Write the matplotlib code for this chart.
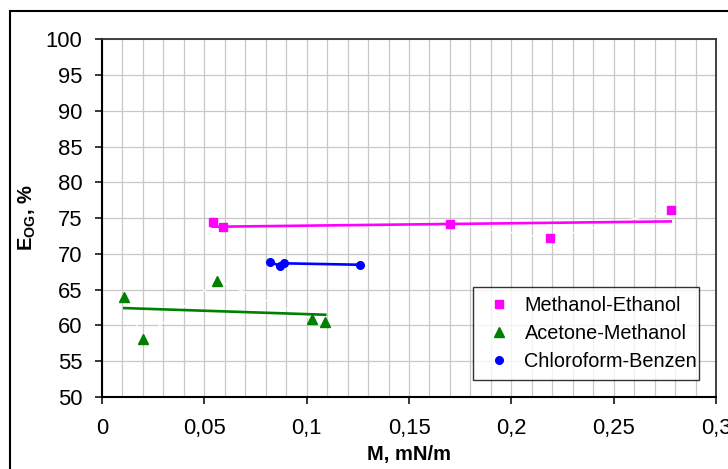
import matplotlib
matplotlib.use('Agg')
import matplotlib.pyplot as plt
from matplotlib.patches import Rectangle
from matplotlib.ticker import MultipleLocator, FuncFormatter
import numpy as np

plt.rcParams['font.family'] = ['Liberation Sans', 'DejaVu Sans']
plt.rcParams['mathtext.fontset'] = 'custom'
plt.rcParams['mathtext.rm'] = 'Liberation Sans'
plt.rcParams['mathtext.bf'] = 'Liberation Sans:bold'

# data
me_x = [0.0541, 0.0590, 0.1700, 0.2187, 0.2779]
me_y = [74.4, 73.75, 74.2, 72.2, 76.1]
am_x = [0.0109, 0.0199, 0.0562, 0.1028, 0.1091]
am_y = [64.0, 58.1, 66.2, 60.9, 60.5]
cb_x = [0.0821, 0.0869, 0.0889, 0.1260]
cb_y = [68.84, 68.33, 68.67, 68.47]

labels = ['Methanol-Ethanol', 'Acetone-Methanol', 'Chloroform-Benzen']
colors = ['#ff00ff', '#008000', '#0000ff']

W, H, DPI = 728, 469, 100
fig = plt.figure(figsize=(W / DPI, H / DPI), dpi=DPI)
ax = fig.add_axes([102 / W, 1 - 396.7 / H, (716 - 102) / W, (396.7 - 39.5) / H])

ax.set_xlim(0, 0.3)
ax.set_ylim(50, 100)
ax.xaxis.set_major_locator(MultipleLocator(0.05))
ax.xaxis.set_minor_locator(MultipleLocator(0.01))
ax.yaxis.set_major_locator(MultipleLocator(5))
ax.xaxis.set_major_formatter(FuncFormatter(lambda v, p: ('%g' % round(v, 2)).replace('.', ',')))
ax.grid(True, which='both', axis='x', color='#c8c8c8', lw=0.9, zorder=0)
ax.grid(True, which='major', axis='y', color='#c8c8c8', lw=0.9, zorder=0)
ax.set_axisbelow(True)
ax.tick_params(axis='both', which='major', direction='out', length=5, width=1.1,
               labelsize=15.8, colors='black')
ax.tick_params(axis='x', which='major', pad=10)
ax.tick_params(axis='y', which='major', pad=9)
ax.tick_params(axis='x', which='minor', length=0)
for s in ['left', 'bottom']:
    ax.spines[s].set_linewidth(1.5)
    ax.spines[s].set_color('black')
for s in ['top', 'right']:
    ax.spines[s].set_linewidth(1.3)
    ax.spines[s].set_color('#333333')

# faint white series lines (only visible across gridlines)
ax.plot(me_x, me_y, color='white', lw=1.0, zorder=1)
ax.plot(am_x, am_y, color='white', lw=1.0, zorder=1)

# linear trendlines
for xs, ys, c in [(me_x, me_y, colors[0]), (am_x, am_y, colors[1])]:
    k, b = np.polyfit(xs, ys, 1)
    xx = np.array([min(xs), max(xs)])
    ax.plot(xx, k * xx + b, color=c, lw=1.9, zorder=2)
ax.plot(cb_x, cb_y, color=colors[2], lw=1.9, zorder=2)

ax.plot(me_x, me_y, 's', color=colors[0], ms=6, mec=colors[0], label=labels[0], zorder=3)
ax.plot(am_x, am_y, '^', color=colors[1], ms=7, mec=colors[1], label=labels[1], zorder=3)
ax.plot(cb_x, cb_y, 'o', color=colors[2], ms=5.5, mec=colors[2], label=labels[2], zorder=3)

leg = ax.legend(loc='lower left', bbox_to_anchor=(0.604, 0.047, 0.368, 0.257), mode='expand',
                fontsize=14.3, frameon=True, fancybox=False, borderpad=0.45, handlelength=1.7,
                handletextpad=0.45, labelspacing=0.45, borderaxespad=0)
leg.get_frame().set_edgecolor('black')
leg.get_frame().set_linewidth(1.0)

ax.set_xlabel('M, mN/m', fontsize=14.5, fontweight='bold', labelpad=5)
ax.set_ylabel(r'$\mathbf{E_{OG}}$, %', fontsize=14.5, fontweight='bold')
ax.yaxis.set_label_coords(-0.104, 0.5)

# outer chart border (runs off the right and bottom edges)
fig.patches.append(Rectangle((10 / W, -0.2), 1.2, 1 - 11 / H + 0.2, transform=fig.transFigure,
                             fill=False, edgecolor='black', lw=1.5, clip_on=False))

fig.savefig('out.png', dpi=DPI)
